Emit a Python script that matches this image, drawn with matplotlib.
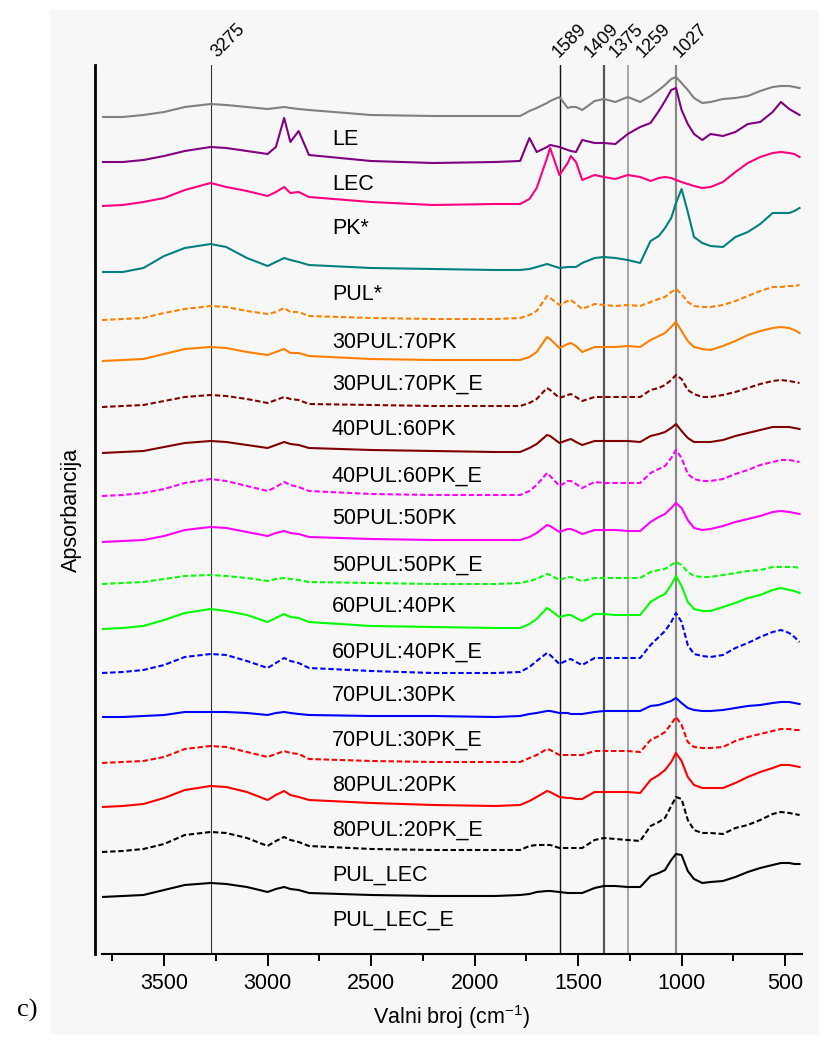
import numpy as np
import matplotlib.pyplot as plt
from matplotlib.patches import Rectangle
from matplotlib.ticker import MultipleLocator

plt.rcParams['font.family'] = ['Liberation Sans', 'DejaVu Sans']
plt.rcParams['mathtext.fontset'] = 'custom'
plt.rcParams['mathtext.rm'] = 'Liberation Sans'

# valni broj (cm-1)
wavenumber = [3800, 3700, 3600, 3500, 3400, 3275, 3200, 3100,
              3000, 2960, 2920, 2890, 2850,
              2800, 2500, 2200, 1900, 1780, 1735, 1700, 1650, 1635, 1590,
              1550, 1535, 1510, 1480, 1420, 1375, 1320, 1260, 1200, 1150,
              1110, 1080, 1050, 1027, 1000, 970, 940, 900, 860, 800,
              740, 680, 620, 560, 520, 480, 455, 430]

# apsorbancija (a.u.), od vrha prema dnu
s_le = [0.00, 0.00, 0.02, 0.05, 0.10, 0.13, 0.12, 0.10,
        0.08, 0.09, 0.10, 0.09, 0.08,
        0.07, 0.02, 0.01, 0.01, 0.01, 0.06, 0.09, 0.14, 0.16, 0.20,
        0.09, 0.10, 0.10, 0.07, 0.16, 0.18, 0.15, 0.20, 0.15, 0.21,
        0.27, 0.32, 0.38, 0.40, 0.34, 0.27, 0.19, 0.14, 0.15, 0.18,
        0.19, 0.21, 0.26, 0.30, 0.31, 0.31, 0.30, 0.29]
s_lec = [0.00, 0.00, 0.02, 0.06, 0.11, 0.15, 0.14, 0.11,
         0.08, 0.15, 0.44, 0.20, 0.31,
         0.07, 0.01, -0.01, 0.00, 0.01, 0.24, 0.10, 0.15, 0.17, 0.15,
         0.12, 0.11, 0.10, 0.22, 0.19, 0.19, 0.18, 0.28, 0.35, 0.39,
         0.51, 0.61, 0.72, 0.74, 0.52, 0.38, 0.28, 0.22, 0.28, 0.26,
         0.30, 0.38, 0.40, 0.50, 0.60, 0.53, 0.50, 0.47]
s_pk = [0.00, 0.01, 0.04, 0.08, 0.16, 0.23, 0.19, 0.15,
        0.10, 0.14, 0.19, 0.13, 0.14,
        0.09, 0.04, 0.01, 0.02, 0.02, 0.07, 0.18, 0.48, 0.58, 0.31,
        0.43, 0.50, 0.44, 0.26, 0.31, 0.29, 0.27, 0.31, 0.29, 0.25,
        0.28, 0.29, 0.28, 0.26, 0.24, 0.22, 0.20, 0.18, 0.19, 0.24,
        0.34, 0.43, 0.49, 0.53, 0.54, 0.53, 0.52, 0.49]
s_pul = [0.00, 0.00, 0.04, 0.16, 0.24, 0.28, 0.25, 0.14,
         0.06, 0.10, 0.14, 0.12, 0.10,
         0.07, 0.04, 0.03, 0.02, 0.02, 0.03, 0.05, 0.08, 0.07, 0.04,
         0.05, 0.05, 0.05, 0.09, 0.14, 0.15, 0.14, 0.12, 0.09, 0.31,
         0.36, 0.44, 0.54, 0.69, 0.83, 0.60, 0.35, 0.29, 0.26, 0.25,
         0.35, 0.40, 0.48, 0.59, 0.59, 0.59, 0.61, 0.64]
s_30_70 = [0.00, 0.01, 0.02, 0.07, 0.11, 0.14, 0.13, 0.09,
           0.06, 0.08, 0.12, 0.08, 0.08,
           0.04, 0.02, 0.01, 0.01, 0.02, 0.05, 0.09, 0.24, 0.22, 0.15,
           0.19, 0.20, 0.16, 0.11, 0.16, 0.15, 0.14, 0.15, 0.14, 0.18,
           0.21, 0.23, 0.28, 0.31, 0.26, 0.18, 0.14, 0.13, 0.13, 0.15,
           0.19, 0.24, 0.29, 0.33, 0.33, 0.34, 0.34, 0.35]
s_30_70_e = [0.00, 0.01, 0.02, 0.07, 0.12, 0.14, 0.13, 0.09,
             0.06, 0.09, 0.12, 0.08, 0.08,
             0.05, 0.02, 0.01, 0.01, 0.01, 0.04, 0.09, 0.24, 0.22, 0.13,
             0.17, 0.18, 0.15, 0.09, 0.14, 0.14, 0.14, 0.15, 0.14, 0.21,
             0.25, 0.28, 0.34, 0.39, 0.30, 0.20, 0.14, 0.12, 0.11, 0.15,
             0.20, 0.26, 0.30, 0.33, 0.34, 0.33, 0.31, 0.28]
s_40_60 = [0.00, 0.01, 0.02, 0.06, 0.10, 0.12, 0.11, 0.08,
           0.04, 0.07, 0.10, 0.08, 0.07,
           0.03, 0.02, 0.01, 0.01, 0.01, 0.04, 0.08, 0.19, 0.17, 0.09,
           0.12, 0.13, 0.10, 0.06, 0.10, 0.10, 0.10, 0.10, 0.10, 0.17,
           0.19, 0.22, 0.27, 0.32, 0.28, 0.17, 0.13, 0.10, 0.10, 0.12,
           0.15, 0.19, 0.23, 0.26, 0.27, 0.26, 0.25, 0.24]
s_40_60_e = [0.00, 0.01, 0.02, 0.06, 0.10, 0.12, 0.11, 0.08,
             0.05, 0.08, 0.11, 0.09, 0.08,
             0.05, 0.03, 0.02, 0.01, 0.01, 0.05, 0.09, 0.18, 0.17, 0.10,
             0.13, 0.14, 0.11, 0.08, 0.12, 0.12, 0.12, 0.12, 0.11, 0.17,
             0.19, 0.21, 0.25, 0.29, 0.22, 0.15, 0.11, 0.11, 0.11, 0.13,
             0.17, 0.20, 0.23, 0.26, 0.26, 0.26, 0.25, 0.24]
s_50_50 = [0.00, 0.01, 0.03, 0.07, 0.13, 0.17, 0.15, 0.10,
           0.05, 0.09, 0.14, 0.11, 0.09,
           0.05, 0.02, 0.01, 0.01, 0.01, 0.05, 0.11, 0.23, 0.20, 0.10,
           0.15, 0.15, 0.12, 0.08, 0.14, 0.13, 0.13, 0.13, 0.13, 0.23,
           0.27, 0.30, 0.38, 0.46, 0.38, 0.22, 0.17, 0.15, 0.15, 0.17,
           0.22, 0.26, 0.31, 0.34, 0.36, 0.36, 0.35, 0.34]
s_50_50_e = [0.00, 0.01, 0.02, 0.06, 0.12, 0.15, 0.14, 0.10,
             0.06, 0.09, 0.11, 0.09, 0.08,
             0.05, 0.03, 0.02, 0.02, 0.02, 0.05, 0.09, 0.17, 0.16, 0.10,
             0.13, 0.13, 0.11, 0.08, 0.12, 0.12, 0.12, 0.11, 0.11, 0.20,
             0.25, 0.28, 0.34, 0.39, 0.34, 0.22, 0.14, 0.12, 0.13, 0.16,
             0.20, 0.23, 0.26, 0.30, 0.31, 0.30, 0.29, 0.28]
s_60_40 = [0.00, 0.01, 0.02, 0.05, 0.08, 0.09, 0.08, 0.06,
           0.03, 0.05, 0.06, 0.05, 0.04,
           0.02, 0.01, 0.00, 0.00, 0.01, 0.03, 0.05, 0.10, 0.09, 0.04,
           0.07, 0.07, 0.05, 0.03, 0.06, 0.06, 0.06, 0.06, 0.06, 0.12,
           0.14, 0.15, 0.19, 0.22, 0.19, 0.12, 0.08, 0.07, 0.07, 0.09,
           0.11, 0.13, 0.14, 0.17, 0.17, 0.17, 0.17, 0.16]
s_60_40_e = [0.00, 0.01, 0.03, 0.09, 0.16, 0.20, 0.18, 0.14,
             0.07, 0.11, 0.15, 0.12, 0.11,
             0.07, 0.03, 0.02, 0.01, 0.01, 0.05, 0.10, 0.21, 0.19, 0.12,
             0.14, 0.14, 0.11, 0.08, 0.15, 0.15, 0.14, 0.14, 0.14, 0.27,
             0.32, 0.35, 0.44, 0.53, 0.43, 0.27, 0.20, 0.18, 0.18, 0.22,
             0.26, 0.31, 0.34, 0.39, 0.41, 0.39, 0.38, 0.36]
s_70_30 = [0.00, 0.01, 0.03, 0.08, 0.16, 0.19, 0.18, 0.12,
           0.05, 0.10, 0.15, 0.12, 0.10,
           0.05, 0.02, 0.00, 0.00, 0.01, 0.06, 0.12, 0.20, 0.18, 0.09,
           0.13, 0.14, 0.11, 0.08, 0.15, 0.15, 0.15, 0.15, 0.15, 0.28,
           0.36, 0.42, 0.51, 0.60, 0.51, 0.28, 0.19, 0.17, 0.16, 0.18,
           0.25, 0.30, 0.36, 0.41, 0.43, 0.40, 0.36, 0.31]
s_70_30_e = [0.00, 0.00, 0.01, 0.02, 0.05, 0.05, 0.05, 0.04,
             0.02, 0.04, 0.05, 0.04, 0.03,
             0.02, 0.01, 0.01, 0.00, 0.01, 0.03, 0.04, 0.06, 0.06, 0.04,
             0.04, 0.03, 0.03, 0.03, 0.05, 0.06, 0.06, 0.06, 0.06, 0.11,
             0.12, 0.14, 0.16, 0.19, 0.14, 0.09, 0.07, 0.06, 0.06, 0.07,
             0.09, 0.11, 0.12, 0.14, 0.15, 0.15, 0.14, 0.13]
s_80_20 = [0.00, 0.01, 0.02, 0.06, 0.14, 0.17, 0.16, 0.11,
           0.06, 0.09, 0.12, 0.10, 0.09,
           0.04, 0.02, 0.01, 0.01, 0.01, 0.05, 0.08, 0.14, 0.13, 0.08,
           0.08, 0.08, 0.08, 0.08, 0.12, 0.12, 0.12, 0.12, 0.11, 0.23,
           0.27, 0.31, 0.39, 0.46, 0.38, 0.21, 0.16, 0.15, 0.15, 0.16,
           0.22, 0.26, 0.29, 0.32, 0.34, 0.34, 0.33, 0.33]
s_80_20_e = [0.00, 0.01, 0.03, 0.09, 0.17, 0.21, 0.20, 0.15,
             0.07, 0.12, 0.16, 0.12, 0.10,
             0.07, 0.04, 0.02, 0.01, 0.02, 0.06, 0.10, 0.16, 0.15, 0.10,
             0.09, 0.09, 0.08, 0.08, 0.15, 0.15, 0.15, 0.15, 0.14, 0.27,
             0.32, 0.37, 0.45, 0.54, 0.46, 0.30, 0.22, 0.19, 0.19, 0.19,
             0.24, 0.30, 0.35, 0.39, 0.42, 0.42, 0.41, 0.40]
s_pul_lec = [0.00, 0.01, 0.03, 0.08, 0.17, 0.20, 0.19, 0.14,
             0.06, 0.11, 0.15, 0.12, 0.10,
             0.06, 0.03, 0.02, 0.02, 0.02, 0.06, 0.07, 0.07, 0.07, 0.04,
             0.04, 0.04, 0.04, 0.04, 0.12, 0.14, 0.13, 0.12, 0.11, 0.26,
             0.30, 0.34, 0.46, 0.55, 0.53, 0.32, 0.22, 0.19, 0.19, 0.18,
             0.24, 0.27, 0.32, 0.38, 0.40, 0.39, 0.38, 0.37]
s_pul_lec_e = [0.00, 0.01, 0.02, 0.07, 0.12, 0.14, 0.13, 0.10,
               0.05, 0.08, 0.10, 0.08, 0.07,
               0.04, 0.02, 0.01, 0.01, 0.02, 0.03, 0.05, 0.06, 0.06, 0.05,
               0.04, 0.04, 0.04, 0.04, 0.09, 0.11, 0.11, 0.10, 0.10, 0.21,
               0.24, 0.27, 0.37, 0.43, 0.42, 0.26, 0.18, 0.14, 0.15, 0.16,
               0.20, 0.25, 0.29, 0.32, 0.34, 0.34, 0.33, 0.33]

spectra = [s_le, s_lec, s_pk, s_pul, s_30_70, s_30_70_e, s_40_60, s_40_60_e,
           s_50_50, s_50_50_e, s_60_40, s_60_40_e, s_70_30, s_70_30_e,
           s_80_20, s_80_20_e, s_pul_lec, s_pul_lec_e]
names = ["LE", "LEC", "PK*", "PUL*", "30PUL:70PK", "30PUL:70PK_E",
         "40PUL:60PK", "40PUL:60PK_E", "50PUL:50PK", "50PUL:50PK_E",
         "60PUL:40PK", "60PUL:40PK_E", "70PUL:30PK", "70PUL:30PK_E",
         "80PUL:20PK", "80PUL:20PK_E", "PUL_LEC", "PUL_LEC_E"]
offsets = [8.37, 7.92, 7.48, 6.82, 6.34, 5.93, 5.47, 5.01, 4.58,
           4.12, 3.70, 3.25, 2.81, 2.37, 1.91, 1.47, 1.02, 0.57]
colors = ["#808080", "#800080", "#FF0080", "#008080",
          "#FF8000", "#FF8000", "#800000", "#800000",
          "#FF00FF", "#FF00FF", "#00FF00", "#00FF00",
          "#0000FF", "#0000FF", "#FF0000", "#FF0000",
          "#000000", "#000000"]
dashed = [False, False, False, False, True, False, True, False, True,
          False, True, False, True, False, True, False, True, False]

# oznacene vrpce
band_pos = [3275, 1589, 1375, 1259, 1027]
band_text = ["3275", "1589", "1409", "1375", "1259", "1027"]
band_text_pos = [3245, 1592, 1438, 1317, 1186, 1008]

fig = plt.figure(figsize=(8.2, 10.4), dpi=100)
fig.patches.append(Rectangle((50 / 820, 7 / 1040), 1, 1023 / 1040,
                             transform=fig.transFigure, color="#f7f7f7",
                             zorder=-10))
ax = fig.add_axes([0.1244, 0.0827, 0.8537, 0.8548])
ax.set_facecolor("none")

line_col = ["#333333", "#111111", "#555555", "#999999", "#888888"]
line_w = [0.8, 1.0, 1.6, 1.2, 1.6]
for b, c, w in zip(band_pos, line_col, line_w):
    ax.axvline(b, color=c, lw=w, zorder=1)

for s, off, c, d, n in zip(spectra, offsets, colors, dashed, names):
    y = np.array(s) + off
    ls = (0, (2.6, 1.3)) if d else "-"
    ax.plot(wavenumber, y, color=c, lw=1.5, ls=ls, zorder=3)
    ax.text(2690, off - 0.23, n, fontsize=15.5, ha="left", va="center")

for t, p in zip(band_text, band_text_pos):
    ax.text(p, 8.96, t, fontsize=13, rotation=45, rotation_mode="anchor",
            ha="left", va="baseline", clip_on=False)

ax.set_xlim(3800, 418)
ax.set_ylim(0, 8.89)
ax.set_yticks([])
ax.set_xticks([3500, 3000, 2500, 2000, 1500, 1000, 500])
ax.xaxis.set_minor_locator(MultipleLocator(250))
ax.tick_params(axis="x", which="major", length=8.6, width=1.4,
               labelsize=15.5, pad=5)
ax.tick_params(axis="x", which="minor", length=5, width=1.4)

for sp in ["top", "right"]:
    ax.spines[sp].set_visible(False)
ax.spines["bottom"].set_linewidth(1.5)
ax.spines["left"].set_linewidth(2)
ax.spines["left"].set_position(("outward", 5))

ax.set_xlabel(r"Valni broj (cm$^{\mathregular{-1}}$)", fontsize=15.5)
ax.xaxis.set_label_coords(0.5, -0.0709)
ax.xaxis.label.set_va("center")
ax.set_ylabel("Apsorbancija", fontsize=15.5)
ax.yaxis.set_label_coords(-0.043, 0.5)
ax.yaxis.label.set_va("center")

fig.text(17 / 820, 1 - 1010 / 1040, "c)", family="Liberation Serif",
         fontsize=19, ha="left", va="center")

fig.savefig("out.png", dpi=100)
